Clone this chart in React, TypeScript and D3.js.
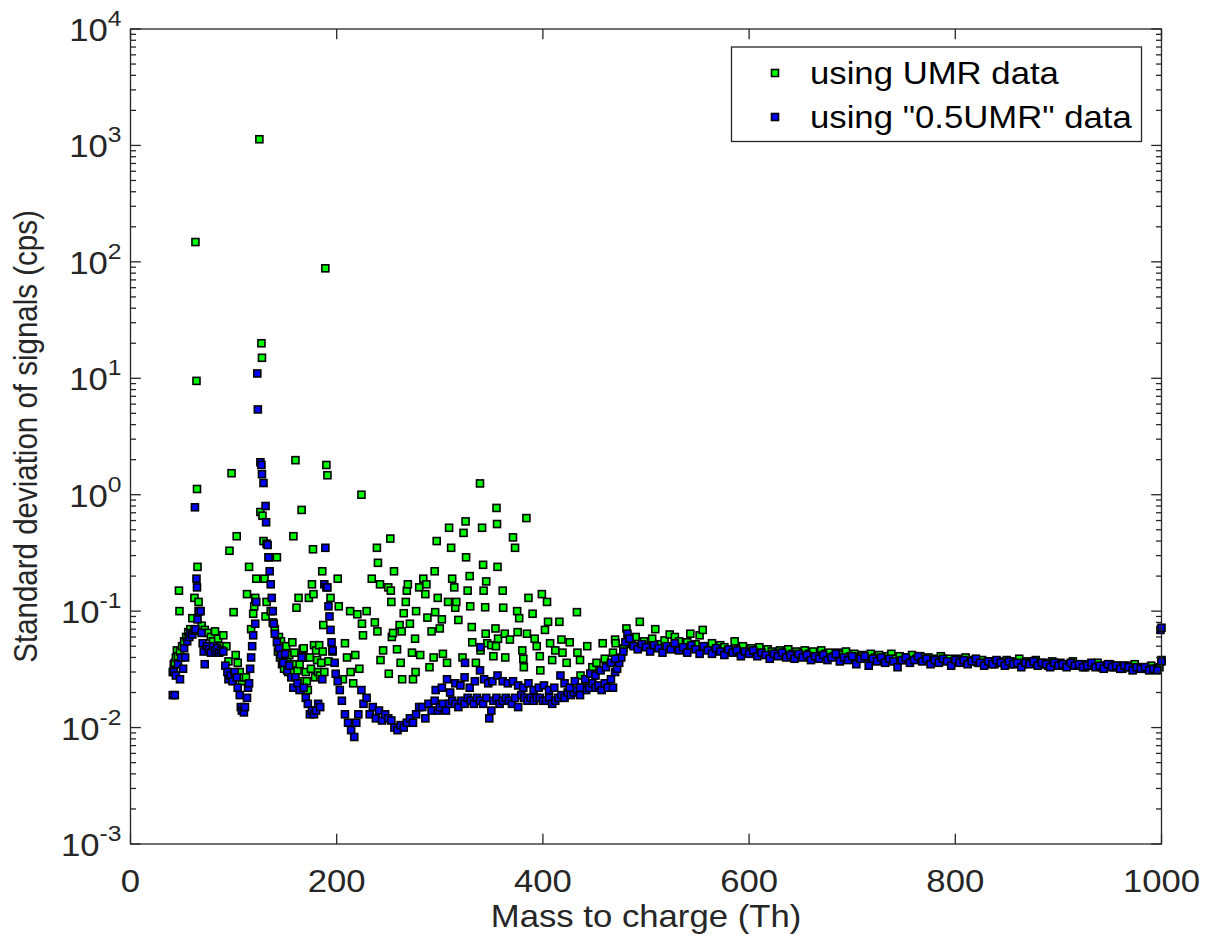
import React from "react";
import * as d3 from "d3";

// m/z (Th) and standard deviation (cps)
const umrLowMass: [number, number][] = [
  [41,0.03],[42,0.035],[43,0.036],[44,0.04],[45,0.046],[46,0.041],[47,0.15],[47.5,0.1],[48,0.045],[50,0.05],
  [52,0.055],[54,0.06],[56,0.066],[58,0.07],[60,0.087],[62,0.13],[63,148],[64,9.5],[64.5,1.12],[65,0.24],
  [66,0.12],[67,0.1],[69,0.075],[72,0.069],[75,0.065],[78,0.06],[80,0.055],[82,0.067],[85,0.058],[88,0.05],
  [90,0.062],[93,0.05],[95,0.037],[96,0.33],[98,1.53],[100,0.098],[102,0.042],[103,0.44],[104,0.036],[106,0.03],
  [108,0.025],[110,0.027],[112,0.027],[113,0.14],[115,0.24],[117,0.07],[119,0.095],[120,0.11],[121,0.13],[122,0.19],
];
const umrPeakMass: [number, number][] = [
  [125,1130],[126,0.71],[127,20],[127.5,15],[128,0.66],[129,0.4],[130,0.19],[131,0.09],[132,0.12],[134,0.29],
  [136,0.1],[138,0.08],[140,0.07],[142,0.29],[143,0.045],[144,0.06],[145,0.04],[146,0.055],[147,0.035],[148,0.05],
  [149,0.032],[150,0.045],[151,0.05],[152,0.04],[153,0.03],[154,0.042],[155,0.035],[156,0.03],[157,0.054],[158,0.44],
  [158.5,0.035],[159,0.044],[160,1.98],[161,0.107],[162,0.031],[163,0.13],[164,0.035],[165,0.025],[166,0.74],[167,0.047],
  [168,0.048],[169,0.04],[170,0.03],[171,0.025],[172,0.021],[173,0.13],[174,0.04],[175,0.032],[176,0.17],[177,0.34],
  [177.5,0.14],[178,0.051],[179,0.027],[180,0.046],[181,0.038],[182,0.03],[183,0.051],[184,0.028],[185,0.036],[186,0.22],
  [186.5,0.045],[187,0.076],[188,0.03],[189,88],[190,1.8],[191,1.47],[192,0.037],[194,0.13],[196,0.045],
];
const umrMidMass: [number, number][] = [
  [201,0.19],[202,0.11],[206,0.026],[208,0.053],[210,0.04],[213,0.1],[213.5,0.03],[216,0.024],[218,0.042],[220,0.094],
  [222,0.032],[224,1.0],[224.5,0.078],[225.5,0.062],[229,0.1],[234,0.19],[237,0.08],[239,0.35],[239.5,0.067],[240,0.26],
  [242,0.17],[242.5,0.038],[245,0.046],[250,0.16],[250.5,0.029],[252,0.42],[252.5,0.15],[253,0.12],[253.5,0.06],[254.6,0.065],
  [255.6,0.22],[258.5,0.047],[261,0.076],[262,0.036],[263,0.067],[263.5,0.026],[265,0.096],[267,0.12],[268,0.15],[269,0.17],
  [271,0.078],[273,0.044],[274,0.026],[276,0.058],[276.5,0.03],[277,0.1],[280,0.16],[281,0.042],[284,0.19],[286,0.14],
  [287,0.17],[288,0.088],[290,0.033],[292,0.067],[294,0.04],[295,0.22],[295.5,0.098],[297,0.4],[298,0.13],[300,0.071],
  [302,0.085],[303,0.043],[307,0.036],[308,0.12],[309,0.52],[311,0.35],[312,0.19],[314,0.16],[315,0.107],[316,0.12],
  [318,0.084],[322,0.04],[323,0.47],[325,0.59],[325.5,0.29],[327,0.15],[329,0.2],[329.5,0.11],[331,0.073],[331.5,0.054],
  [335,0.036],[339,1.25],[339.5,0.046],[341,0.52],[342,0.25],[342.5,0.15],[344,0.108],[344.5,0.064],[345,0.18],[346,0.053],
  [350,0.051],[352,0.041],[354,0.071],[354.5,0.05],[355,0.77],[355.5,0.56],[356,0.24],[356.5,0.058],[361,0.15],[361.5,0.107],
  [363,0.064],[363.5,0.04],[368,0.057],[371,0.43],[373,0.35],[375,0.1],[375.5,0.066],[377,0.087],[380,0.046],[381,0.039],
  [381.5,0.033],[384,0.63],[384.5,0.064],[386,0.13],[390,0.095],[392,0.058],[394,0.05],[397,0.041],[397.5,0.031],[399,0.14],
  [402,0.069],[404,0.12],[405,0.081],[407,0.053],[409,0.038],[412,0.046],[416,0.081],[418,0.057],[419,0.044],[423,0.036],
  [426,0.054],[433,0.098],[433.5,0.044],[436,0.038],[436.5,0.028],[443,0.05],[446,0.029],[448,0.033],[452,0.036],[458,0.053],
  [460,0.039],[468,0.044],[470,0.057],[470.5,0.053],[478,0.048],
];
const umrHighMass: [number, number][] = [
  [481,0.071],[486,0.052],[490,0.06],[494,0.081],[498,0.055],[502,0.05],[506,0.058],[509,0.07],[514,0.052],[518,0.056],
  [523,0.063],[526,0.05],[528,0.06],[532,0.055],[536,0.048],[540,0.054],[543,0.064],[548,0.052],[552,0.062],[555,0.069],
  [560,0.05],[564,0.053],[568,0.047],[572,0.051],[576,0.049],[580,0.046],[586,0.055],[590,0.047],[594,0.05],[598,0.045],
  [602,0.048],[606,0.046],[610,0.049],[614,0.044],[618,0.047],[622,0.045],[626,0.043],[630,0.046],[634,0.044],[638,0.047],
  [642,0.043],[646,0.045],[650,0.042],[654,0.046],[658,0.043],[662,0.045],[666,0.041],[670,0.046],[674,0.043],[678,0.044],
  [682,0.041],[686,0.044],[690,0.042],[694,0.045],[698,0.041],[702,0.043],[706,0.04],[710,0.042],[714,0.04],[718,0.043],
  [722,0.04],[726,0.042],[730,0.039],[734,0.041],[738,0.043],[742,0.039],[746,0.041],[750,0.038],[754,0.04],[758,0.042],
  [762,0.039],[766,0.041],[770,0.038],[774,0.04],[778,0.037],[782,0.039],[786,0.041],[790,0.038],[794,0.039],[798,0.037],
  [802,0.039],[806,0.037],[810,0.04],[814,0.037],[818,0.038],[822,0.036],[826,0.038],[830,0.036],[834,0.037],[838,0.035],
  [842,0.037],[846,0.036],[850,0.038],[854,0.035],[858,0.037],[862,0.039],[866,0.035],[870,0.037],[874,0.036],[878,0.038],
  [882,0.035],[886,0.036],[890,0.034],[894,0.037],[898,0.035],[902,0.036],[906,0.034],[910,0.035],[914,0.037],[918,0.034],
  [922,0.035],[926,0.033],[930,0.035],[934,0.034],[938,0.036],[942,0.033],[946,0.034],[950,0.035],[954,0.033],[958,0.034],
  [962,0.032],[966,0.034],[970,0.033],[974,0.035],[978,0.032],[982,0.033],[986,0.032],[990,0.034],[994,0.032],[998,0.033],
  [1000,0.038],
];

const halfLowMass: [number, number][] = [
  [41,0.019],[42,0.03],[43,0.019],[44,0.028],[46,0.035],[48,0.026],[49,0.04],[51,0.032],[52,0.048],[53,0.04],
  [55,0.055],[57,0.06],[58,0.065],[60,0.063],[62,0.068],[62.5,0.78],[63,0.07],[64,0.19],[64.5,0.16],[65,0.085],
  [66,0.1],[68,0.1],[69,0.065],[70,0.053],[71,0.045],[72,0.035],[74,0.05],[76,0.047],[78,0.044],[80,0.05],
  [82,0.046],[84,0.048],[86,0.044],[88,0.046],[90,0.045],[92,0.034],[94,0.03],[95,0.026],[97,0.028],[99,0.025],
  [101,0.03],[103,0.027],[104,0.022],[106,0.019],[107,0.015],[108,0.014],[110,0.0135],[111,0.015],[113,0.018],[114,0.022],
  [115,0.024],[116,0.032],[117,0.04],[118,0.05],[119,0.062],[121,0.078],[122,0.12],
];
const halfPeakMass: [number, number][] = [
  [123,11],[123.5,5.4],[126,1.9],[127,1.8],[127.5,1.5],[129,1.26],[131,0.8],[131.5,0.58],[132,0.38],[133,0.37],
  [134,0.29],[135,0.22],[136,0.17],[137,0.13],[138,0.1],[139,0.078],[140,0.064],[142,0.054],[144,0.048],[146,0.042],
  [148,0.036],[150,0.043],[152,0.031],[154,0.034],[156,0.027],[158,0.022],[160,0.027],[162,0.024],[164,0.021],[166,0.04],
  [168,0.022],[170,0.018],[172,0.016],[174,0.013],[176,0.014],[178,0.013],[180,0.014],[182,0.016],[184,0.015],[186,0.026],
  [188,0.17],[189,0.35],[190,0.16],[191,0.16],[192,0.11],[193,0.09],[194,0.069],[195,0.054],[196,0.046],[198,0.036],
  [199,0.029],[201,0.025],[203,0.021],[205,0.017],[208,0.013],[211,0.011],[214,0.0095],[217,0.0083],[219,0.011],[221,0.013],
];
const halfLowerBranch: [number, number][] = [
  [224,0.021],[226,0.016],[229,0.018],[232,0.013],[235,0.015],[238,0.012],[241,0.014],[244,0.0115],[247,0.013],[250,0.012],
  [253,0.0115],[256,0.01],[259,0.0095],[262,0.0105],[265,0.01],[268,0.011],[271,0.012],[274,0.011],[277,0.013],[280,0.015],
  [283,0.015],[286,0.012],[289,0.016],[292,0.014],[295,0.017],[298,0.014],[300,0.015],[303,0.016],[306,0.014],[309,0.016],
  [312,0.017],[315,0.016],[318,0.015],[321,0.017],[324,0.016],[327,0.018],[330,0.017],[333,0.016],[336,0.018],[339,0.017],
  [342,0.016],[345,0.018],[348,0.012],[350,0.014],[352,0.017],[355,0.018],[358,0.016],[361,0.017],[364,0.018],[367,0.017],
  [370,0.016],[373,0.018],[376,0.015],[379,0.019],[382,0.018],[385,0.017],[388,0.018],[391,0.017],[394,0.018],[397,0.018],
  [400,0.017],[403,0.017],[406,0.018],[409,0.016],[412,0.017],[415,0.018],[418,0.019],[421,0.018],[424,0.02],[427,0.019],
  [430,0.02],[433,0.021],[436,0.019],[439,0.022],[442,0.021],[445,0.022],[448,0.024],[451,0.022],[454,0.023],[457,0.021],
  [460,0.024],[463,0.022],[466,0.026],[468,0.022],[470,0.03],[472,0.032],[474,0.036],[476,0.04],[478,0.045],[480,0.054],
];
const halfUpperBranch: [number, number][] = [
  [296,0.021],[302,0.022],[307,0.026],[310,0.02],[315,0.024],[320,0.023],[324,0.027],[324.5,0.036],[329,0.022],[334,0.025],
  [339,0.031],[339.5,0.049],[343,0.026],[347,0.024],[351,0.025],[356,0.028],[361,0.025],[366,0.024],[371,0.025],[376,0.023],
  [381,0.022],[386,0.024],[391,0.021],[396,0.022],[401,0.023],[406,0.021],[411,0.022],[417,0.028],[421,0.024],[426,0.022],
  [431,0.025],[436,0.022],[441,0.026],[446,0.029],[451,0.028],[456,0.031],[461,0.033],[466,0.036],[470,0.039],
];
const halfHighMass: [number, number][] = [
  [482,0.064],[484,0.058],[488,0.05],[492,0.047],[496,0.052],[500,0.049],[504,0.045],[508,0.051],[512,0.048],[516,0.044],
  [520,0.05],[524,0.047],[528,0.053],[532,0.046],[536,0.049],[540,0.044],[544,0.051],[548,0.047],[552,0.043],[556,0.05],
  [560,0.046],[564,0.043],[568,0.048],[572,0.045],[576,0.042],[580,0.047],[584,0.044],[588,0.046],[592,0.041],[596,0.045],
  [600,0.043],[604,0.046],[608,0.041],[612,0.044],[616,0.042],[620,0.039],[624,0.043],[628,0.041],[632,0.044],[636,0.04],
  [640,0.042],[644,0.039],[648,0.043],[652,0.04],[656,0.042],[660,0.038],[664,0.041],[668,0.039],[672,0.042],[676,0.038],
  [680,0.04],[684,0.043],[688,0.037],[692,0.04],[696,0.038],[700,0.041],[704,0.035],[708,0.039],[712,0.041],[716,0.034],
  [720,0.039],[724,0.037],[728,0.04],[732,0.036],[736,0.039],[740,0.037],[744,0.033],[748,0.038],[752,0.04],[756,0.036],
  [760,0.038],[764,0.041],[768,0.037],[772,0.039],[776,0.035],[780,0.038],[784,0.036],[788,0.039],[792,0.037],[796,0.034],
  [800,0.038],[804,0.036],[808,0.038],[812,0.035],[816,0.037],[820,0.039],[824,0.036],[828,0.034],[832,0.037],[836,0.035],
  [840,0.038],[844,0.036],[848,0.034],[852,0.037],[856,0.035],[860,0.036],[864,0.033],[868,0.036],[872,0.035],[876,0.037],
  [880,0.034],[884,0.036],[888,0.035],[892,0.033],[896,0.036],[900,0.034],[904,0.035],[908,0.033],[912,0.036],[916,0.034],
  [920,0.035],[924,0.033],[928,0.034],[932,0.036],[936,0.033],[940,0.034],[944,0.032],[948,0.035],[952,0.033],[956,0.034],
  [960,0.032],[964,0.034],[968,0.033],[972,0.031],[976,0.033],[980,0.032],[984,0.033],[988,0.031],[992,0.032],[996,0.031],
  [999,0.069],[1000,0.072],[1000,0.037],
];

const xTicks = [0, 200, 400, 600, 800, 1000];
const yExponents = [-3, -2, -1, 0, 1, 2, 3, 4];
const legendLabels = ["using UMR data", 'using "0.5UMR" data'];

const W = 1205, H = 940;
const m = { left: 130.5, right: 1161.5, top: 29, bottom: 844 };
const INK = "#262626";
const FONT = "'Liberation Sans', Arial, Helvetica, sans-serif";
const FS = 31;
const SX = 1.12; // glyphs in the figure are a bit wider than plain Arial
const MK = 7;

const umr = [...umrLowMass, ...umrPeakMass, ...umrMidMass, ...umrHighMass];
const half = [...halfLowMass, ...halfPeakMass, ...halfLowerBranch, ...halfUpperBranch, ...halfHighMass];

function Marker({ cx, cy, fill }: { cx: number; cy: number; fill: string }) {
  return <rect x={cx - MK / 2} y={cy - MK / 2} width={MK} height={MK} fill={fill} stroke="#000" strokeWidth={1.6} />;
}

export default function App() {
  const x = d3.scaleLinear().domain([0, 1000]).range([m.left, m.right]);
  const y = d3.scaleLog().domain([1e-3, 1e4]).range([m.bottom, m.top]);
  const majLen = 10.3, minLen = 5.5;

  const minors: number[] = [];
  yExponents.slice(0, -1).forEach(e => {
    for (let k = 2; k <= 9; k++) minors.push(k * Math.pow(10, e));
  });

  return (
    <div style={{ position: "fixed", left: 0, top: 0 }}>
      <svg width={W} height={H} style={{ display: "block", background: "#fff" }} fontFamily={FONT}>
        {/* points: UMR first, 0.5UMR drawn over it */}
        <g>
          {umr.map(([mz, sd], i) => <Marker key={"g" + i} cx={x(mz)} cy={y(sd)} fill="#00ff00" />)}
        </g>
        <g>
          {half.map(([mz, sd], i) => <Marker key={"b" + i} cx={x(mz)} cy={y(sd)} fill="#0000ff" />)}
        </g>

        {/* box + ticks */}
        <g stroke={INK} strokeWidth={1.3} fill="none">
          <rect x={m.left} y={m.top} width={m.right - m.left} height={m.bottom - m.top} />
          {xTicks.map(t => (
            <g key={"xt" + t}>
              <line x1={x(t)} x2={x(t)} y1={m.bottom} y2={m.bottom - majLen} />
              <line x1={x(t)} x2={x(t)} y1={m.top} y2={m.top + majLen} />
            </g>
          ))}
          {yExponents.map(e => (
            <g key={"yt" + e}>
              <line x1={m.left} x2={m.left + majLen} y1={y(Math.pow(10, e))} y2={y(Math.pow(10, e))} />
              <line x1={m.right} x2={m.right - majLen} y1={y(Math.pow(10, e))} y2={y(Math.pow(10, e))} />
            </g>
          ))}
          {minors.map((v, i) => (
            <g key={"mn" + i}>
              <line x1={m.left} x2={m.left + minLen} y1={y(v)} y2={y(v)} />
              <line x1={m.right} x2={m.right - minLen} y1={y(v)} y2={y(v)} />
            </g>
          ))}
        </g>

        {/* tick labels */}
        <g fill={INK} fontSize={FS}>
          {xTicks.map(t => (
            <text key={"xl" + t} transform={`translate(${x(t)},${m.bottom + 48}) scale(${SX},1)`} textAnchor="middle">{t}</text>
          ))}
          {yExponents.map(e => (
            <text key={"yl" + e} transform={`translate(${m.left - 9},${y(Math.pow(10, e)) + 12}) scale(${SX},1)`} textAnchor="end">
              10<tspan fontSize={22} dy={-15}>{e}</tspan>
            </text>
          ))}
        </g>

        {/* axis titles */}
        <text transform={`translate(${(m.left + m.right) / 2},${m.bottom + 83}) scale(${SX},1)`} textAnchor="middle" fontSize={FS} fill={INK}>
          Mass to charge (Th)
        </text>
        <text transform={`translate(37,${(m.top + m.bottom) / 2}) scale(${SX},1) rotate(-90)`} textAnchor="middle" fontSize={29.5} fill={INK}>
          Standard deviation of signals (cps)
        </text>

        {/* legend */}
        <g>
          <rect x={731.5} y={47} width={410} height={94.5} fill="#fff" stroke={INK} strokeWidth={1.3} />
          {legendLabels.map((lab, i) => (
            <g key={lab}>
              <Marker cx={775} cy={73 + i * 44} fill={i === 0 ? "#00ff00" : "#0000ff"} />
              <text transform={`translate(810,${84 + i * 44}) scale(${SX},1)`} fontSize={FS} fill="#000">{lab}</text>
            </g>
          ))}
        </g>
      </svg>
    </div>
  );
}
